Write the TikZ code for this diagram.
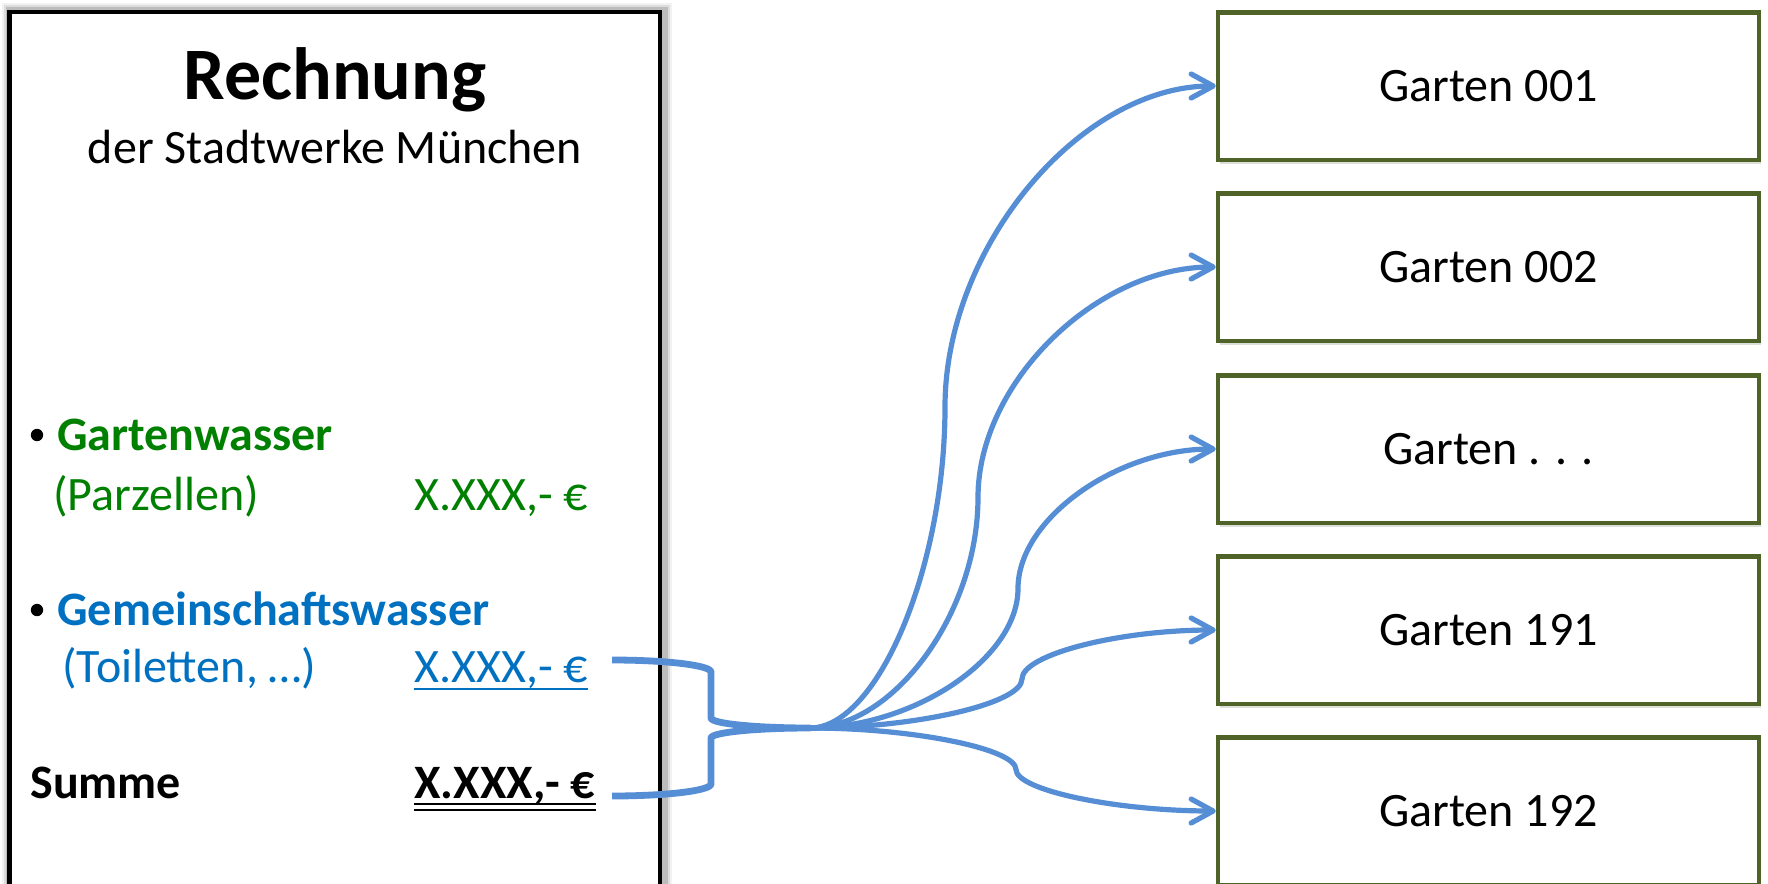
\documentclass[tikz,border=0pt]{standalone}
\usepackage{fontspec}
\setmainfont{Carlito}
\usetikzlibrary{arrows.meta,shadows}
\definecolor{conn}{RGB}{85,142,213}
\definecolor{olivebox}{RGB}{79,98,40}
\definecolor{tgreen}{RGB}{0,128,0}
\definecolor{tblue}{RGB}{0,112,192}
\begin{document}
\begin{tikzpicture}[x=0.5pt,y=-0.5pt,
  reg/.style={inner sep=0pt, font=\fontsize{24pt}{28pt}\selectfont},
  bld/.style={inner sep=0pt, font=\fontsize{24pt}{28pt}\selectfont\bfseries},
  bullet/.style={circle, fill=black, inner sep=0pt, minimum size=6.2pt},
  garden/.style={draw=olivebox, line width=2.25pt, fill=white,
    minimum width=270.5pt, minimum height=73.75pt, inner sep=0pt,
    font=\fontsize{24pt}{28pt}\selectfont,
    drop shadow={opacity=0.22, shadow xshift=1.2pt, shadow yshift=-2.2pt, fill=olivebox!60!gray}},
  arr/.style={draw=conn, line width=2.6pt, -{Straight Barb[length=11pt,width=12pt,round]}, line cap=round, line join=round},
  brace/.style={draw=conn, line width=3.4pt, line join=round}]
\useasboundingbox (0,0) rectangle (1768,884);
\clip (0,0) rectangle (1768,884);
\fill[white] (0,0) rectangle (1768,884);

% invoice box with soft shadow
\foreach \w/\o in {10/0.05, 8/0.09, 6/0.14}
  \draw[line width=\w pt, black, opacity=\o] (12,13) rectangle (662,950);
\draw[line width=2.4pt, fill=white] (9.5,12) rectangle (660,950);

\node[inner sep=0pt, font=\fontsize{37pt}{40pt}\selectfont\bfseries, anchor=base] (title) at (335,99) {Rechnung};
\node[reg, anchor=base] (sub) at (335,163) {der Stadtwerke München};

\node[bullet] (bul1) at (37,435) {};
\node[bld, anchor=base west, text=tgreen] (gw) at (57,450) {Gartenwasser};
\node[reg, anchor=base west, text=tgreen] (parz) at (53,510) {(Parzellen)};
\node[reg, anchor=base west, text=tgreen] (amt1) at (414,510) {X.XXX,- €};

\node[bullet] (bul2) at (37,610) {};
\node[bld, anchor=base west, text=tblue] (gmw) at (57,625) {Gemeinschaftswasser};
\node[reg, anchor=base west, text=tblue] (toil) at (62,682) {(Toiletten, …)};
\node[reg, anchor=base west, text=tblue] (amt2) at (414,682) {X.XXX,- €};
\draw[tblue, line width=1.25pt] ([yshift=-3.6pt]amt2.base west) -- ([yshift=-3.6pt]amt2.base east);

\node[bld, anchor=base west] (summe) at (30,798) {Summe};
\node[bld, anchor=base west] (amt3) at (414,798) {X.XXX,- €};
\draw[line width=0.9pt] ([yshift=-3pt]amt3.base west) -- ([yshift=-3pt]amt3.base east);
\draw[line width=0.9pt] ([yshift=-6pt]amt3.base west) -- ([yshift=-6pt]amt3.base east);

% garden boxes
\node[garden] (g1) at (1488.5,86) {Garten 001};
\node[garden] (g2) at (1488.5,267) {Garten 002};
\node[garden] (g3) at (1488.5,449) {Garten . . .};
\node[garden] (g4) at (1488.5,630) {Garten 191};
\node[garden] (g5) at (1488.5,811) {Garten 192};

% brace
\coordinate (bt) at (612,660);
\coordinate (bb) at (612,796);
\coordinate (tip) at (810,728);
\draw[brace] (bt) .. controls (666.6,660) and (711,665.4) .. (711,672) -- (711,718)
  .. controls (711,723.5) and (755,728) .. (tip)
  .. controls (755,728) and (711,732.5) .. (711,738) -- (711,784)
  .. controls (711,790.6) and (666.6,796) .. (bb);

% connectors
\draw[arr] (tip) .. controls (877.5,728) and (945,567.5) .. (945,407) .. controls (945,246.5) and (1080.5,86) .. (g1.west);
\draw[arr] (tip) .. controls (894,728) and (978,612.75) .. (978,497.5) .. controls (978,382.25) and (1097,267) .. (g2.west);
\draw[arr] (tip) .. controls (914,728) and (1018,658.25) .. (1018,588.5) .. controls (1018,518.75) and (1117,449) .. (g3.west);
\draw[arr] (tip) .. controls (916,728) and (1022,703.5) .. (1022,679) .. controls (1022,654.5) and (1119,630) .. (g4.west);
\draw[arr] (tip) .. controls (913,728) and (1016,748.75) .. (1016,769.5) .. controls (1016,790.25) and (1116,811) .. (g5.west);
\end{tikzpicture}
\end{document}
